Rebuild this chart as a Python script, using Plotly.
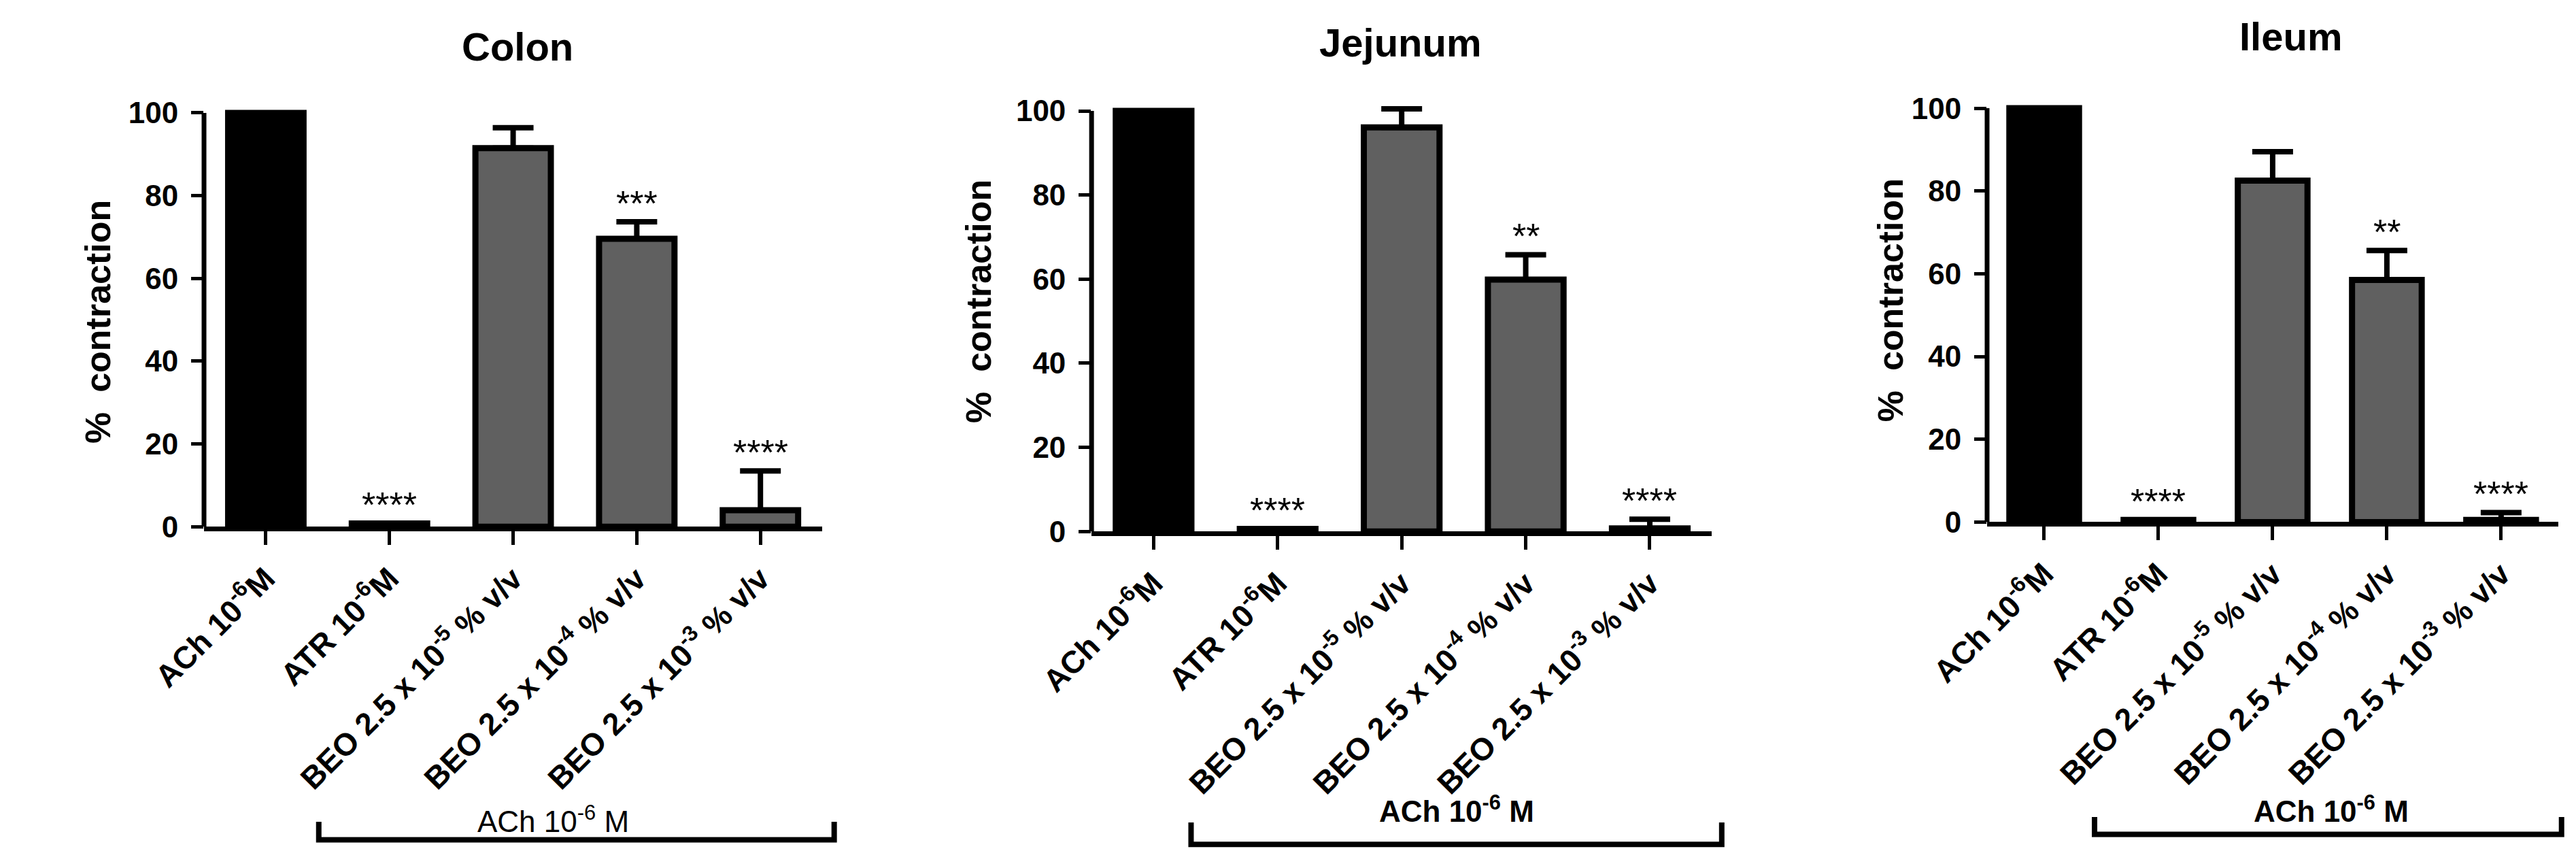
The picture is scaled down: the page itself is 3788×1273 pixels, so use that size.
import plotly.graph_objects as go

W, H = 3788, 1273

# ---------------- data ----------------
categories = [
    "ACh 10<sup>-6</sup>M",
    "ATR 10<sup>-6</sup>M",
    "BEO 2.5 x 10<sup>-5</sup> % v/v",
    "BEO 2.5 x 10<sup>-4</sup> % v/v",
    "BEO 2.5 x 10<sup>-3</sup> % v/v",
]
panel_titles = ["Colon", "Jejunum", "Ileum"]

colon_mean = [100, 0.8, 91.5, 69.6, 4.0]
colon_err = [0, 0, 4.9, 4.1, 9.5]
jejunum_mean = [100, 0.6, 96.1, 59.9, 0.7]
jejunum_err = [0, 0, 4.4, 5.9, 2.2]
ileum_mean = [100, 0.5, 82.5, 58.5, 0.5]
ileum_err = [0, 0, 7.0, 7.1, 1.8]

colon_stars = ["", "****", "", "***", "****"]
jejunum_stars = ["", "****", "", "**", "****"]
ileum_stars = ["", "****", "", "**", "****"]

y_ticks = [0, 20, 40, 60, 80, 100]
y_title = "%  contraction"
bracket_label = "ACh 10<sup>-6</sup> M"

# ---------------- styling / layout (pixel positions) ----------------
FONT = "Liberation Sans, Arial, Helvetica, sans-serif"
BAR_COLORS = ["#000000", "#606060", "#606060", "#606060", "#606060"]
Y_MAX_AXIS = 100      # top of drawn y axis line
Y_MAX_RANGE = 104     # a bit of headroom so caps near 100 are not cut

panels = [
    dict(mean=colon_mean, err=colon_err, stars=colon_stars,
         x0=204, x1=1136, y0=781, y1=161,
         title_xy=(677, 62), ylab_xy=(44, 474),
         br=(377, 1154, 1250, 1223), br_txt=(730, 1220), br_bold=False),
    dict(mean=jejunum_mean, err=jejunum_err, stars=jejunum_stars,
         x0=1542, x1=2477, y0=788, y1=158,
         title_xy=(2008, 56), ylab_xy=(1371, 443),
         br=(1692, 2492, 1257, 1224), br_txt=(2092, 1204), br_bold=True),
    dict(mean=ileum_mean, err=ileum_err, stars=ileum_stars,
         x0=2892, x1=3753, y0=774, y1=154,
         title_xy=(3350, 46), ylab_xy=(2746, 442),
         br=(3054, 3758, 1242, 1216), br_txt=(3411, 1204), br_bold=True),
]


def fx(px):
    return px / W


def fy(py):
    return 1 - py / H


fig = go.Figure()
annotations = []
shapes = []

for i, p in enumerate(panels):
    n = "" if i == 0 else str(i + 1)
    xa, ya = "x" + n, "y" + n
    # pixel of the range top (headroom above 100)
    top_px = p["y0"] - (p["y0"] - p["y1"]) * Y_MAX_RANGE / Y_MAX_AXIS
    fig.add_trace(go.Bar(
        x=categories, y=p["mean"], xaxis=xa, yaxis=ya,
        width=0.61,
        marker=dict(color=BAR_COLORS, line=dict(color="black", width=9)),
        error_y=dict(type="data", array=p["err"], arrayminus=[0] * len(p["err"]),
                     symmetric=False, color="black", thickness=8, width=30),
        cliponaxis=False,
        showlegend=False,
    ))
    fig.layout["xaxis" + n] = dict(
        domain=[fx(p["x0"]), fx(p["x1"])], anchor=ya,
        showline=True, linecolor="black", linewidth=7,
        ticks="outside", tickcolor="black", tickwidth=5, ticklen=20,
        showgrid=False, zeroline=False,
        type="category", range=[-0.5, 4.5], tickangle=-45,
        tickfont=dict(family=FONT, size=46, color="black", weight="bold"),
        ticklabelstandoff=4,
    )
    fig.layout["yaxis" + n] = dict(
        domain=[fy(p["y0"]), fy(top_px)], anchor=xa,
        showline=False, showgrid=False, zeroline=False,
        ticks="outside", tickcolor="black", tickwidth=5, ticklen=18,
        range=[0, Y_MAX_RANGE], tickvals=y_ticks,
        tickfont=dict(family=FONT, size=44, color="black", weight="bold"),
        ticklabelstandoff=10,
    )
    # y axis line from 0 to 100 only
    shapes.append(dict(
        type="line", xref=xa + " domain", yref=ya,
        x0=0, x1=0, y0=0, y1=Y_MAX_AXIS,
        line=dict(color="black", width=7)))
    # panel title
    annotations.append(dict(
        text=panel_titles[i], x=fx(p["title_xy"][0]), y=fy(p["title_xy"][1]),
        xref="paper", yref="paper", xanchor="center", yanchor="middle",
        showarrow=False, font=dict(family=FONT, size=58, color="black", weight="bold")))
    # y axis title
    annotations.append(dict(
        text=y_title, x=fx(p["ylab_xy"][0]), y=fy(p["ylab_xy"][1]),
        xref="paper", yref="paper", xanchor="center", yanchor="middle",
        textangle=-90, showarrow=False,
        font=dict(family=FONT, size=52, color="black", weight="bold")))
    # significance stars
    for c, m, e, s in zip(categories, p["mean"], p["err"], p["stars"]):
        if s:
            annotations.append(dict(
                text=s, x=c, y=m + e, xref=xa, yref=ya,
                xanchor="center", yanchor="bottom", yshift=-4, showarrow=False,
                font=dict(family=FONT, size=52, color="black")))
    # bracket under the treated groups
    bx0, bx1, by, btop = p["br"]
    shapes.append(dict(
        type="path", xref="paper", yref="paper",
        path=f"M {fx(bx0)} {fy(btop)} L {fx(bx0)} {fy(by)} L {fx(bx1)} {fy(by)} L {fx(bx1)} {fy(btop)}",
        line=dict(color="black", width=8)))
    annotations.append(dict(
        text=bracket_label, x=fx(p["br_txt"][0]), y=fy(p["br_txt"][1]),
        xref="paper", yref="paper", xanchor="center", yanchor="middle",
        showarrow=False,
        font=dict(family=FONT, size=44, color="black",
                  weight="bold" if p["br_bold"] else "normal")))

fig.update_layout(
    width=W, height=H,
    margin=dict(l=0, r=0, t=0, b=0),
    paper_bgcolor="white", plot_bgcolor="white",
    annotations=annotations, shapes=shapes,
)

fig.write_html("out.html")
